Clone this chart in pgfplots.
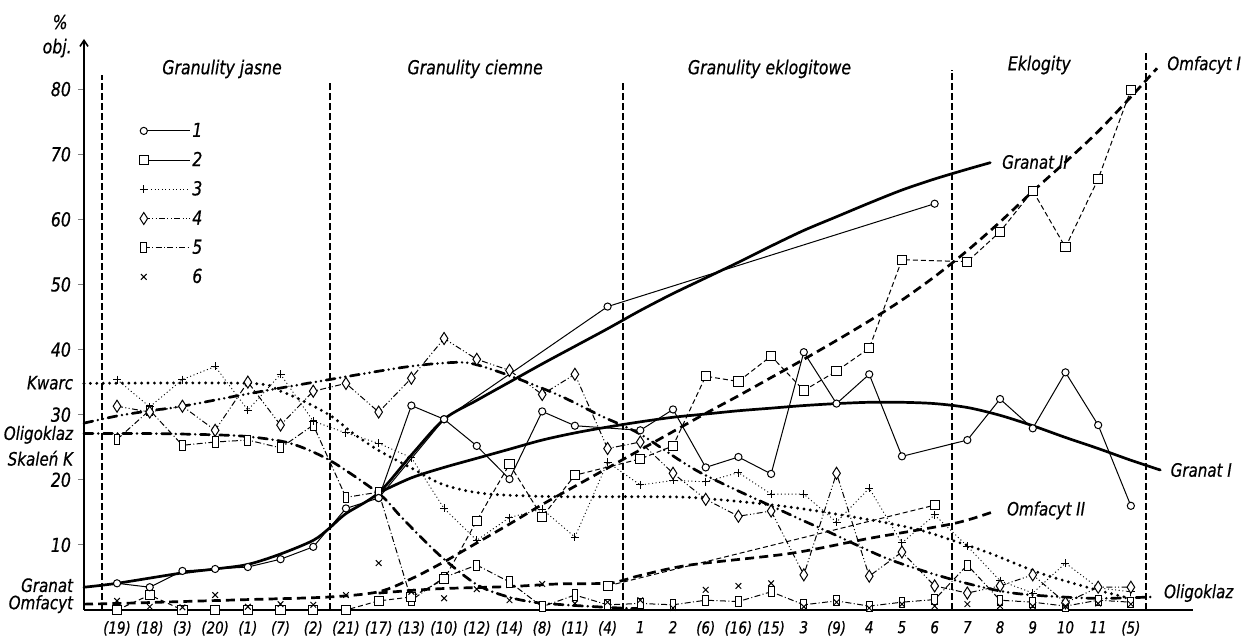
\documentclass[border=0pt]{standalone}
\usepackage{fontspec}
\setmainfont{DejaVu Sans}[FakeStretch=0.82, FakeBold=0.6]
\usepackage{pgfplots}
\pgfplotsset{compat=1.18}
\usetikzlibrary{arrows.meta}

\newcommand{\lab}{\fontsize{9.6}{11}\selectfont\itshape}
\newcommand{\tlab}{\fontsize{9.2}{11}\selectfont\itshape}

\tikzset{
  % hand-drawn trend curves
  trend/.style={line width=1.35pt, no marks, smooth, line cap=round},
  tsolid/.style={trend},
  tdash/.style={trend, line cap=butt, dash pattern=on 4.5pt off 2.6pt},
  tdot/.style={trend, line width=1.6pt, dash pattern=on 0pt off 3.2pt},
  tdadd/.style={trend, dash pattern=on 4.5pt off 2.6pt on 0pt off 2.6pt on 0pt off 2.6pt},
  tdad/.style={trend, dash pattern=on 4.5pt off 2.6pt on 0pt off 2.6pt},
  % measured series
  s1/.style={line width=0.5pt, mark=*, mark size=1.8pt, mark options={solid, fill=white, line width=0.5pt}},
  s2/.style={line width=0.5pt, dash pattern=on 2.5pt off 1.5pt, mark=square*, mark size=2.3pt, mark options={solid, fill=white, line width=0.5pt}},
  s3/.style={line width=0.45pt, dash pattern=on 0.5pt off 1.3pt, mark=+, mark size=2pt, mark options={solid, line width=0.5pt}},
  s4/.style={line width=0.5pt, dash pattern=on 3pt off 1.2pt on 0.5pt off 1.2pt on 0.5pt off 1.2pt, mark=diamond*, mark size=3pt, mark options={solid, fill=white, line width=0.5pt, xscale=0.85}},
  s5/.style={line width=0.5pt, dash pattern=on 3pt off 1.2pt on 0.5pt off 1.2pt, mark=square*, mark size=2.4pt, mark options={solid, fill=white, line width=0.5pt, xscale=0.6, yscale=1.05}},
  s6/.style={only marks, mark=x, mark size=2pt, mark options={line width=0.5pt}},
  bnd/.style={line width=0.8pt, dash pattern=on 3.5pt off 1.5pt},
}

\begin{document}
\begin{tikzpicture}
\begin{axis}[
  name=ax, at={(0,0)}, anchor=south west,
  scale only axis, width=554.5pt, height=285.5pt,
  xmin=-1.01, xmax=32.9, ymin=0, ymax=87.7,
  axis x line=bottom, axis y line=left,
  x axis line style={-, line width=0.8pt},
  y axis line style={-{Straight Barb[length=3pt,width=4pt]}, line width=0.8pt},
  xtick={0,...,31},
  xticklabels={(19),(18),(3),(20),(1),(7),(2),(21),(17),(13),(10),(12),(14),(8),(11),(4),1,2,(6),(16),(15),3,(9),4,5,6,7,8,9,10,11,(5)},
  x tick style={draw=none},
  xticklabel style={font=\fontsize{8.2}{9}\selectfont\itshape, yshift=1pt},
  ytick={10,20,...,80},
  tick align=outside, major tick length=3pt,
  y tick style={line width=0.6pt},
  yticklabel style={font=\lab},
  /pgf/number format/assume math mode=true,
  clip=false,
  legend cell align=left,
  legend style={at={(0.044,0.866)}, anchor=north west, draw=none, fill=none,
    font=\lab, row sep=3.6pt, nodes={inner sep=1pt, text height=7.5pt, text depth=1.5pt}},
  legend image code/.code={\draw[mark repeat=2,mark phase=1,#1] plot coordinates {(0pt,0pt) (23pt,0pt)};},
]
% legend
\addlegendimage{s1}\addlegendentry{1}
\addlegendimage{s2, solid}\addlegendentry{2}
\addlegendimage{s3}\addlegendentry{3}
\addlegendimage{s4}\addlegendentry{4}
\addlegendimage{s5}\addlegendentry{5}
\addlegendimage{s6}\addlegendentry{6}

% rock-group boundaries
\draw[bnd] (axis cs:-0.46,0) -- (axis cs:-0.46,82.2);
\draw[bnd] (axis cs:6.51,0) -- (axis cs:6.51,81.4);
\draw[bnd] (axis cs:15.47,0) -- (axis cs:15.47,81.1);
\draw[bnd] (axis cs:25.53,0) -- (axis cs:25.53,83.0);
\draw[bnd] (axis cs:31.47,0) -- (axis cs:31.47,85.7);

% trend curves
% Granat -> Granat II
\addplot[tsolid] coordinates {(-1.01,3.5)(0,4.1)(2,5.7)(3,6.3)(4,7.0)(5,8.6)(6,10.7)(6.5,12.6)(7,14.8)(8,18.0)(9,23.8)(10,29.3)(11,32.2)(12,35.0)(13,37.8)(14,40.5)(15,43.2)(16,46.0)(17,48.6)(18,51.0)(19,53.4)(20,55.9)(21,58.3)(22,60.4)(23,62.5)(24,64.5)(25,66.2)(26,67.7)(26.7,68.7)};
% Granat I
\addplot[tsolid] coordinates {(8,18.0)(9,20.3)(10,21.9)(11,23.3)(12,24.7)(13,26.1)(14,27.2)(15,28.1)(16,28.9)(17,29.6)(18,30.1)(19,30.6)(20,31.0)(21,31.4)(22,31.7)(23,31.9)(24,31.9)(25,31.7)(26,31.1)(27,29.9)(28,28.3)(29,26.5)(30,24.8)(31,23.0)(31.9,21.5)};
% Omfacyt -> Omfacyt I
\addplot[tdash] coordinates {(-1.01,0.9)(0,1.0)(2,1.3)(4,1.6)(6.5,2.0)(8,2.8)(9,4.8)(10,7.4)(11,10.3)(12,13.2)(13,16.2)(14,19.0)(15,21.8)(16,24.6)(17,27.4)(18,30.2)(19,32.9)(20,35.7)(21,38.5)(22,41.4)(23,44.4)(24,47.6)(25,51.2)(26,55.2)(27,59.6)(28,64.3)(29,68.8)(30,73.5)(31,78.8)(31.8,83.2)};
% Omfacyt II
\addplot[tdash] coordinates {(8,2.6)(9,3.0)(10,3.3)(12,3.6)(13.5,4.0)(15,4.1)(15.5,4.6)(16,5.3)(17.5,6.9)(20.6,8.7)(23,11.0)(25.6,13.3)(26.85,15.2)};
% Kwarc
\addplot[tdot] coordinates {(-1.01,34.8)(4.07,34.8)(5.0,33.6)(5.9,31.6)(6.6,29.6)(7.2,27.2)(8.0,24.5)(9.0,21.8)(9.9,19.4)(10.8,18.2)(11.7,17.7)(13.5,17.4)(16.3,17.4)(17.8,17.2)(20.6,15.8)(23.3,13.6)(24.6,12.2)(25.6,10.6)(26.7,8.7)(28.2,5.7)(29.8,3.3)(30.8,2.0)};
% Oligoklaz
\addplot[tdadd] coordinates {(-1.01,28.7)(0,29.8)(1,30.6)(2,31.3)(4,33.2)(6.5,35.4)(8.65,37.2)(9.9,37.9)(10.8,37.9)(12,36.0)(13.5,33.0)(14.8,29.8)(16,27.0)(17.8,21.2)(20.6,14.6)(21.8,11.9)(23.6,7.8)(25.6,4.6)(27.4,2.6)(29.8,1.8)(31.6,2.0)};
% Skalen K
\addplot[tdad] coordinates {(-1.01,27.1)(1,27.1)(3,26.9)(4.07,26.6)(5.3,25.6)(6.5,23.0)(8,17.9)(8.65,14.5)(9.27,11.3)(10,7.8)(11,3.9)(11.9,2.1)(12.9,1.1)(15,0.4)(16,0.2)};

% measured series
% 5
\addplot[s5] coordinates {(0,26.2)(1,30.7)(2,25.3)(3,25.8)(4,26.1)(5,24.9)(6,28.4)(7,17.3)(8,18.1)(9,1.5)(10,5.0)(11,6.9)(12,4.3)(13,0.5)(14,2.3)(15,0.8)(16,1.0)(17,0.8)(18,1.5)(19,1.3)(20,2.8)(21,0.8)(22,1.4)(23,0.6)(24,1.2)(25,1.6)(26,6.9)(27,1.5)(28,1.2)(29,0.6)(30,1.5)(31,1.2)};
% 3
\addplot[s3] coordinates {(0,35.4)(1,31.2)(2,35.4)(3,37.4)(4,30.7)(5,36.2)(6,29.0)(7,27.2)(8,25.6)(9,23.4)(10,15.6)(11,10.7)(12,14.2)(13,15.5)(14,11.2)(15,22.7)(16,19.2)(17,19.9)(18,19.7)(19,21.1)(20,17.8)(21,17.8)(22,13.5)(23,18.7)(24,10.3)(25,14.6)(26,9.8)(27,4.5)(28,2.6)(29,7.2)(30,3.4)(31,2.8)};
% 4
\addplot[s4] coordinates {(0,31.3)(1,30.4)(2,31.3)(3,27.6)(4,35.0)(5,28.4)(6,33.6)(7,34.8)(8,30.4)(9,35.6)(10,41.7)(11,38.5)(12,36.8)(13,33.1)(14,36.2)(15,24.8)(16,25.8)(17,21.0)(18,17.0)(19,14.4)(20,15.2)(21,5.4)(22,21.0)(23,5.2)(24,8.9)(25,3.7)(26,2.6)(27,3.7)(28,5.4)(29,1.1)(30,3.5)(31,3.5)};
% 2
\addplot[s2] coordinates {(0,0)(1,2.3)(2,0)(3,0)(4,0)(5,0)(6,0)(7,0)(8,1.4)(9,2.0)(10,4.7)(11,13.7)(12,22.4)(13,14.3)(14,20.7)(16,23.2)(17,25.2)(18,35.9)(19,35.1)(20,39.0)(21,33.7)(22,36.7)(23,40.2)(24,53.8)(26,53.5)(27,58.1)(28,64.4)(29,55.7)(30,66.2)(31,79.9)};
\addplot[s2] coordinates {(15,3.7)(25,16.1)};
% 1
\addplot[s1] coordinates {(0,4.1)(1,3.5)(2,6.0)(3,6.3)(4,6.6)(5,7.8)(6,9.7)(7,15.6)(8,17.2)(9,31.4)(10,29.3)(11,25.2)(12,20.1)(13,30.5)(14,28.3)(16,27.6)(17,30.8)(18,21.9)(19,23.5)(20,20.9)(21,39.6)(22,31.7)(23,36.2)(24,23.6)(26,26.1)(27,32.4)(28,27.9)(29,36.5)(30,28.4)(31,16.0)};
\addplot[s1] coordinates {(8,17.2)(10,29.3)(15,46.6)(25,62.4)};
% 6
\addplot[s6] coordinates {(0,1.4)(1,0.5)(2,0.4)(3,2.3)(4,0.5)(5,0.9)(6,0.8)(7,2.3)(8,7.2)(9,2.8)(10,1.8)(11,3.2)(12,1.5)(13,4.0)(14,1.0)(15,1.2)(16,1.5)(17,0.3)(18,3.1)(19,3.7)(20,4.1)(21,0.5)(22,1.2)(23,0.3)(24,0.9)(25,0.6)(26,0.9)(27,0.6)(28,0.6)(29,0.6)(30,1.0)(31,0.9)};

% group titles
\node[font=\lab] at (axis cs:3.21,83.1) {Granulity jasne};
\node[font=\lab] at (axis cs:10.95,83.1) {Granulity ciemne};
\node[font=\lab] at (axis cs:19.95,83.1) {Granulity eklogitowe};
\node[font=\lab] at (axis cs:28.2,83.7) {Eklogity};

% curve names
\node[font=\tlab, anchor=west] at (axis cs:31.9,83.7) {Omfacyt I};
\node[font=\tlab, anchor=west] at (axis cs:26.85,68.8) {Granat II};
\node[font=\tlab, anchor=west] at (axis cs:32.0,21.5) {Granat I};
\node[font=\tlab, anchor=west] at (axis cs:27.0,15.3) {Omfacyt II};
\node[font=\tlab, anchor=west] at (axis cs:31.8,2.6) {Oligoklaz};
\node[font=\tlab, anchor=east] at (axis cs:-1.13,34.9) {Kwarc};
\node[font=\tlab, anchor=east] at (axis cs:-1.13,26.9) {Oligoklaz};
\node[font=\tlab, anchor=east] at (axis cs:-1.13,23.3) {Skaleń K};
\node[font=\tlab, anchor=east] at (axis cs:-1.13,3.8) {Granat};
\node[font=\tlab, anchor=east] at (axis cs:-1.13,0.9) {Omfacyt};

% axis unit
\node[font=\lab] at (axis cs:-1.74,90.3) {\%};
\node[font=\lab] at (axis cs:-1.83,86.3) {obj.};
\end{axis}
\pgfresetboundingbox
\path[use as bounding box] ([shift={(-42pt,-13pt)}]ax.south west) rectangle ([shift={(578.5pt,305pt)}]ax.south west);
\end{tikzpicture}
\end{document}
